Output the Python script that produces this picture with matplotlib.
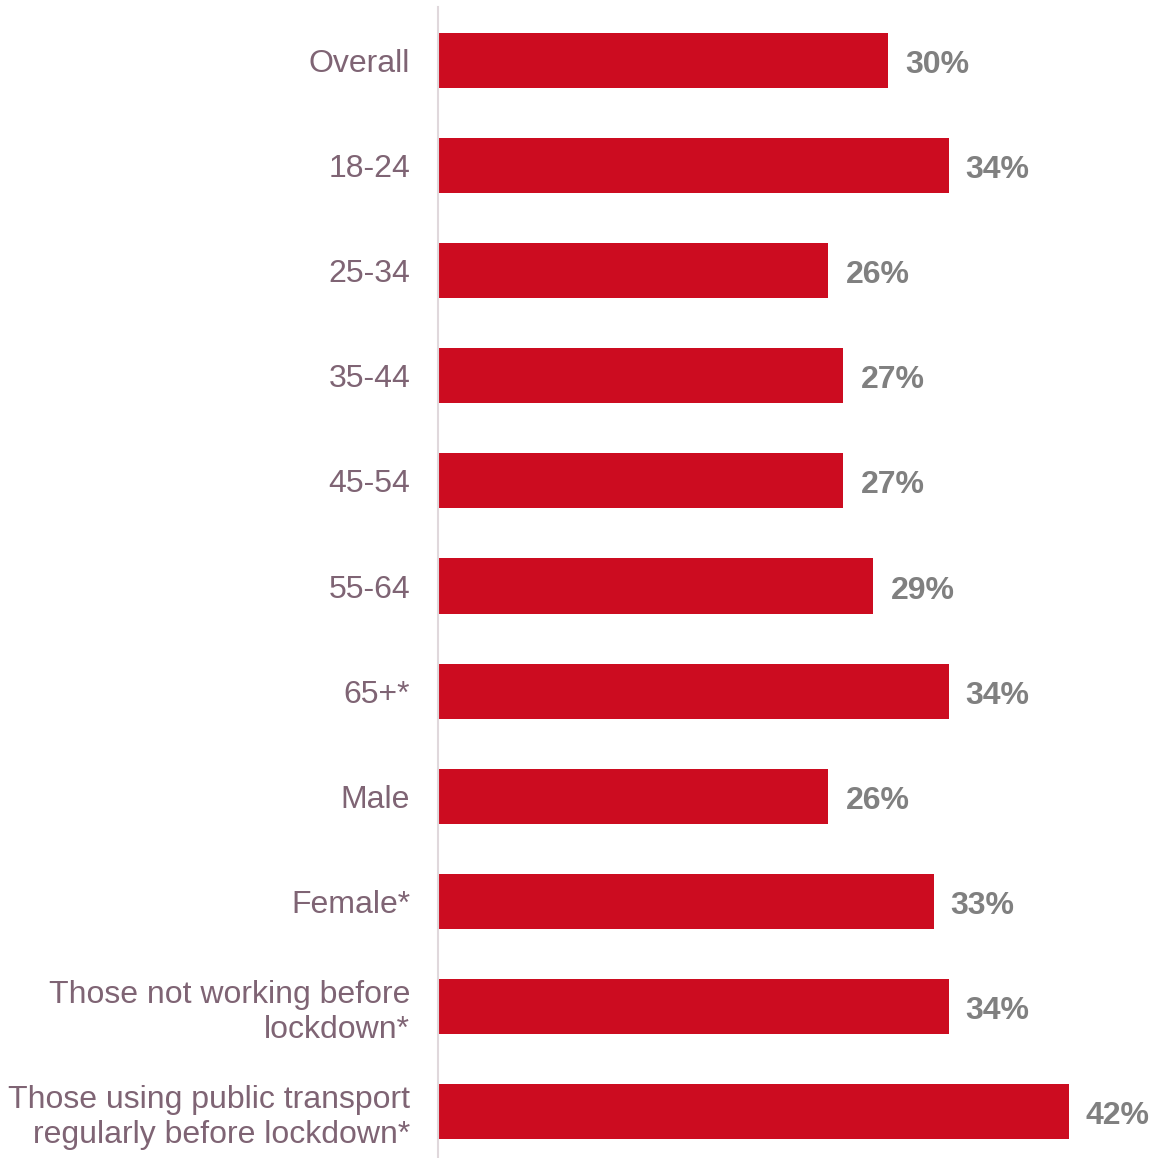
import numpy as np
import matplotlib.pyplot as plt

plt.rcParams['font.family'] = ['Liberation Sans', 'DejaVu Sans']

# Share of each group (percent)
groups = ['Overall', '18-24', '25-34', '35-44', '45-54', '55-64', '65+*',
          'Male', 'Female*', 'Those not working before\nlockdown*',
          'Those using public transport\nregularly before lockdown*']
values = [30, 34, 26, 27, 27, 29, 34, 26, 33, 34, 42]

bar_color = '#cc0c20'
label_color = '#7f6474'
value_color = '#808080'

fig = plt.figure(figsize=(11.58, 11.58), dpi=100)
ax = fig.add_axes([438 / 1158, 0, 720 / 1158, 1 - 7 / 1158])

y = np.arange(len(groups))
ax.barh(y, values, height=0.524, color=bar_color, zorder=2)

for yi, v in zip(y, values):
    ax.text(v + 17 / 15, yi + 0.01, f'{v}%', va='center_baseline', ha='left',
            fontsize=23, fontweight='bold', color=value_color)

ax.set_xlim(0, 47.95)
ax.set_ylim(len(groups) - 1 + 0.438, -0.505)
ax.set_yticks(y)
ax.set_yticklabels(groups, fontsize=23, color=label_color, linespacing=1.22)
ax.tick_params(axis='y', length=0, pad=20)
ax.set_xticks([])

for side in ['top', 'right', 'bottom']:
    ax.spines[side].set_visible(False)
ax.spines['left'].set_color('#e0d8dc')
ax.spines['left'].set_linewidth(1.5)

fig.savefig('out.png', dpi=100)
